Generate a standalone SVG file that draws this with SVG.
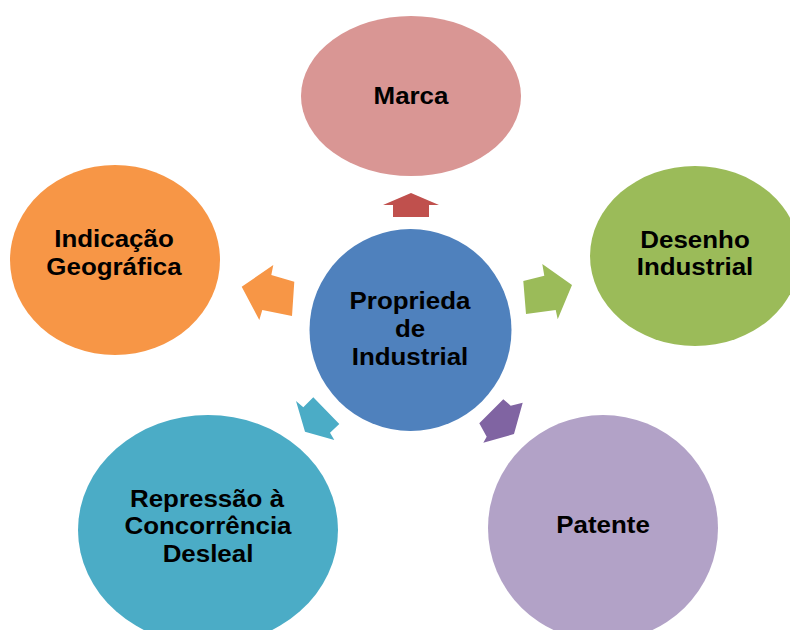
<svg xmlns="http://www.w3.org/2000/svg" width="790" height="630" viewBox="0 0 790 630">
<style>
text{font-family:"Liberation Sans",Arial,sans-serif;font-weight:bold;font-size:24px;fill:#000;text-anchor:middle}
</style>
<rect width="790" height="630" fill="#fff"/>
<g id="connectors">
<polygon fill="#C0504D" points="411,193 439,205 429,205 429,217 393,217 393,205 383,205"/>
<polygon fill="#9BBB59" points="523.3,281 544.3,275.7 542.3,264 572,285 557.7,319.3 555.7,310 526,314"/>
<polygon fill="#F79646" points="241.7,286.7 273.3,265 271.3,275 294.3,281.7 292,316 262.3,310 259.3,320"/>
<polygon fill="#4BACC6" points="296,401 303.3,407.3 313.3,397.3 339.3,424 330,432.7 334.3,440 305,431.7"/>
<polygon fill="#8064A2" points="503.3,399.3 510.7,405.7 522.7,402.7 514,434 483.3,442.7 486.7,436.7 479.3,423.3"/>
</g>
<g id="marca">
<ellipse cx="411" cy="96" rx="110" ry="80" fill="#D99694"/>
<text transform="translate(411,104) scale(1.08,1)">Marca</text>
</g>
<g id="desenho">
<ellipse cx="695" cy="256" rx="105" ry="90" fill="#9BBB59"/>
<text transform="translate(695,248) scale(1.08,1)">Desenho</text>
<text transform="translate(695,275) scale(1.08,1)">Industrial</text>
</g>
<g id="indicacao">
<ellipse cx="115" cy="260" rx="105" ry="95" fill="#F79646"/>
<text transform="translate(114,247) scale(1.08,1)">Indicação</text>
<text transform="translate(114,275) scale(1.08,1)">Geográfica</text>
</g>
<g id="repressao">
<ellipse cx="208" cy="530" rx="130" ry="115" fill="#4BACC6"/>
<text transform="translate(207,507) scale(1.08,1)">Repressão à</text>
<text transform="translate(208,534) scale(1.08,1)">Concorrência</text>
<text transform="translate(208,562) scale(1.08,1)">Desleal</text>
</g>
<g id="patente">
<ellipse cx="603" cy="528" rx="115" ry="113" fill="#B2A2C7"/>
<text transform="translate(603,533) scale(1.08,1)">Patente</text>
</g>
<g id="propriedade">
<circle cx="410.5" cy="330" r="101" fill="#4F81BD"/>
<text transform="translate(410,309) scale(1.08,1)">Proprieda</text>
<text transform="translate(410,337) scale(1.08,1)">de</text>
<text transform="translate(410,365) scale(1.08,1)">Industrial</text>
</g>
</svg>
